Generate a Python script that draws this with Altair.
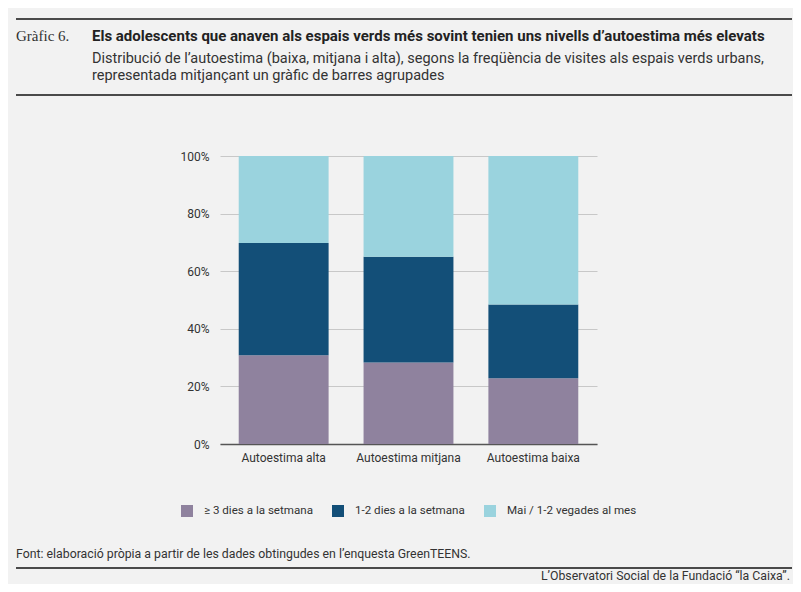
import altair as alt
import pandas as pd

categories = ["Autoestima alta", "Autoestima mitjana", "Autoestima baixa"]
series = ["≥ 3 dies a la setmana", "1-2 dies a la setmana", "Mai / 1-2 vegades al mes"]
colors = ["#8f829e", "#134f78", "#9ad3de"]
freq_3plus = [30.8, 28.3, 22.8]
freq_1_2 = [39.0, 36.7, 25.6]
freq_never = [30.2, 35.0, 51.6]
y_ticks = [0, 20, 40, 60, 80, 100]

label_txt = "Gràfic 6."
title_txt = "Els adolescents que anaven als espais verds més sovint tenien uns nivells d’autoestima més elevats"
sub1_txt = "Distribució de l’autoestima (baixa, mitjana i alta), segons la freqüència de visites als espais verds urbans,"
sub2_txt = "representada mitjançant un gràfic de barres agrupades"
source_txt = "Font: elaboració pròpia a partir de les dades obtingudes en l’enquesta GreenTEENS."
credit_txt = "L’Observatori Social de la Fundació “la Caixa”."

rows = []
for vals, s_i in zip([freq_3plus, freq_1_2, freq_never], range(3)):
    for c, v in zip(categories, vals):
        rows.append({"cat": c, "serie": series[s_i], "idx": s_i, "val": v})
df = pd.DataFrame(rows)

FONT = "Roboto"
TXT = "#333333"
OX, OY = 220, 156  # plot origin in page pixels

bars = alt.Chart(df).mark_bar().encode(
    x=alt.X("cat:N", sort=categories,
            scale=alt.Scale(paddingInner=0.28, paddingOuter=0.15),
            axis=alt.Axis(title=None, labelAngle=0, ticks=False, domain=True,
                          domainColor="#555555", domainWidth=1.5, labelPadding=8,
                          labelFont=FONT, labelFontSize=12, labelColor=TXT, grid=False)),
    y=alt.Y("val:Q", stack="zero", scale=alt.Scale(domain=[0, 100]),
            axis=alt.Axis(title=None, values=y_ticks, labelExpr="datum.value + '%'",
                          ticks=False, domain=False, grid=True, gridColor="#c8c8c8",
                          gridWidth=1, labelPadding=11, labelFont=FONT,
                          labelFontSize=12, labelColor=TXT)),
    color=alt.Color("serie:N", sort=series,
                    scale=alt.Scale(domain=series, range=colors),
                    legend=alt.Legend(title=None, orient="none", legendX=181 - OX, legendY=505 - OY,
                                      direction="horizontal", symbolType="square",
                                      symbolSize=144, symbolStrokeWidth=0,
                                      labelOffset=11, columnPadding=19, padding=0,
                                      labelFont=FONT, labelFontSize=11.6, labelColor=TXT)),
    order=alt.Order("idx:Q"),
)


def text_layer(t, x, y, size=12, weight="normal", font=FONT, align="left", color=TXT):
    return alt.Chart(pd.DataFrame({"t": [t]})).mark_text(
        align=align, baseline="alphabetic", font=font, fontSize=size,
        fontWeight=weight, color=color
    ).encode(text="t:N", x=alt.value(x - OX), y=alt.value(y - OY))


def rule_layer(y, x1=16, x2=792):
    return alt.Chart(pd.DataFrame({"a": [0]})).mark_rule(
        color="#4a4a4a", strokeWidth=2
    ).encode(x=alt.value(x1 - OX), x2=alt.value(x2 - OX), y=alt.value(y - OY))


layers = [
    bars,
    rule_layer(19),
    rule_layer(95),
    rule_layer(568),
    text_layer(label_txt, 16, 41, size=15, font="Liberation Serif"),
    text_layer(title_txt, 92, 41, size=15, weight="bold", color="#222222"),
    text_layer(sub1_txt, 92, 62.5, size=14.5),
    text_layer(sub2_txt, 92, 79.5, size=14.5),
    text_layer(source_txt, 16, 558, size=12.3),
    text_layer(credit_txt, 790, 580, size=12.3, align="right"),
]

chart = alt.layer(*layers).properties(
    width=377, height=288,
    padding={"left": 212, "top": 148, "right": 196, "bottom": 140},
    autosize=alt.AutoSizeParams(type="none"),
    background="#f2f2f2",
).configure_view(stroke=None)

chart.save("out.html", embed_options={"renderer": "svg", "actions": False})
